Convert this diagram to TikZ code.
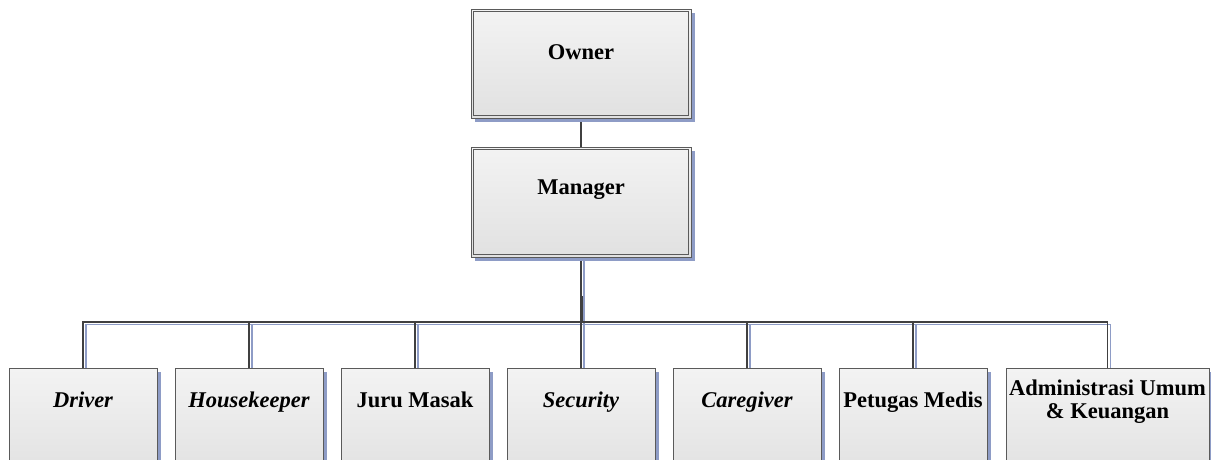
\documentclass[tikz,border=0pt]{standalone}
\usepackage{fontspec}
\setmainfont{Liberation Serif}
\usetikzlibrary{shadows,backgrounds}
\definecolor{edgec}{HTML}{5A5A5A}
\definecolor{linec}{HTML}{404040}
\definecolor{shd}{HTML}{8E9CC6}
\definecolor{topc}{HTML}{F3F3F3}
\definecolor{botc}{HTML}{E1E1E1}
\tikzset{
  boxbase/.style={rectangle, draw=edgec, line width=0.9pt, top color=topc, bottom color=botc,
    inner sep=0pt, drop shadow={shadow xshift=4pt, shadow yshift=-4pt, fill=shd, opacity=1}},
  topbox/.style={boxbase, minimum width=220pt, minimum height=109pt},
  staffbox/.style={boxbase, minimum width=148pt, minimum height=110pt},
  lbl/.style={anchor=base, inner sep=0pt, font=\fontsize{22.5}{23}\selectfont\bfseries, align=center},
  conn/.style={draw=linec, line width=1.2pt},
  connshd/.style={draw=shd, line width=1.4pt, transform canvas={xshift=3pt, yshift=-2.5pt}},
  inner/.style={draw=edgec, line width=0.9pt}
}
\begin{document}
\begin{tikzpicture}[x=1pt,y=-1pt]
\useasboundingbox (0,0) rectangle (1211,459);
\clip (0,0) rectangle (1211,459);
% top boxes
\node[topbox] (owner) at (581,63.5) {};
\node[topbox, minimum height=110pt] (manager) at (581,202) {};
\draw[inner] ([shift={(3,3)}]owner.north west) rectangle ([shift={(-3,-3)}]owner.south east);
\draw[inner] ([shift={(3,3)}]manager.north west) rectangle ([shift={(-3,-3)}]manager.south east);
\node[lbl] (towner) at (581,59) {Owner};
\node[lbl] (tmanager) at (581,194) {Manager};
% staff boxes
\node[staffbox] (driver) at (83,423) {};
\node[staffbox] (house) at (249,423) {};
\node[staffbox] (juru) at (415,423) {};
\node[staffbox] (sec) at (581,423) {};
\node[staffbox] (care) at (747,423) {};
\node[staffbox] (medis) at (913,423) {};
\node[staffbox, minimum width=203pt] (admin) at (1107.5,423) {};
\node[lbl] (tdriver) at (83,407) {\itshape Driver};
\node[lbl] (thouse) at (249,407) {\itshape Housekeeper};
\node[lbl] (tjuru) at (415,407) {Juru Masak};
\node[lbl] (tsec) at (581,407) {\itshape Security};
\node[lbl] (tcare) at (747,407) {\itshape Caregiver};
\node[lbl] (tmedis) at (913,407) {Petugas Medis};
\node[lbl] (tadmin) at (1107.5,418) {Administrasi Umum\\\& Keuangan};
\coordinate (bus) at (581,322);
\coordinate (thk) at (581.5,296);
\begin{pgfonlayer}{background}
  \draw[connshd] (manager.south) -- (bus);
  \foreach \c in {driver,house,juru,sec,care,medis,admin}
    \draw[connshd] (bus) -| (\c.north);
  \draw[conn] (owner.south) -- (manager.north);
  \draw[conn] (manager.south) -- (bus);
  \foreach \c in {driver,house,juru,sec,care,medis,admin}
    \draw[conn] (bus) -| (\c.north);
  \draw[draw=linec, line width=2.2pt] (thk) -- (thk |- bus);
\end{pgfonlayer}
\end{tikzpicture}
\end{document}
